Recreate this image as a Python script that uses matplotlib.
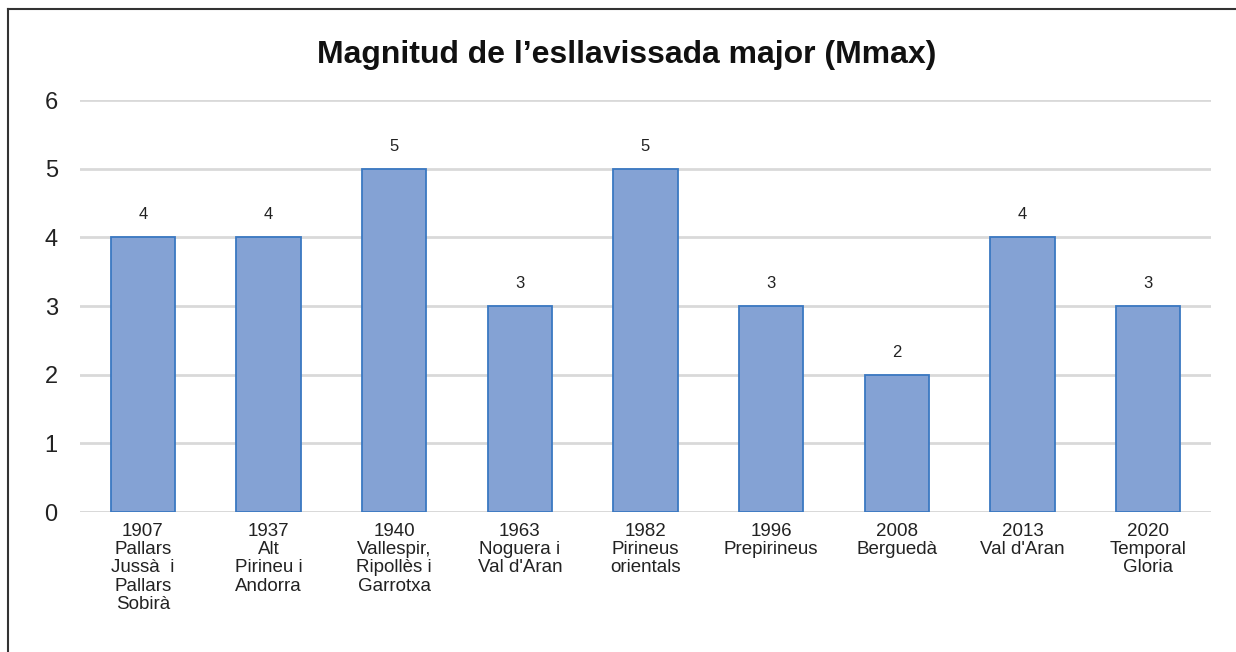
import matplotlib.pyplot as plt
from matplotlib.lines import Line2D

plt.rcParams['font.family'] = ['Liberation Sans', 'DejaVu Sans']

categories = [
    "1907\nPallars\nJussà  i\nPallars\nSobirà",
    "1937\nAlt\nPirineu i\nAndorra",
    "1940\nVallespir,\nRipollès i\nGarrotxa",
    "1963\nNoguera i\nVal d'Aran",
    "1982\nPirineus\norientals",
    "1996\nPrepirineus",
    "2008\nBerguedà",
    "2013\nVal d'Aran",
    "2020\nTemporal\nGloria",
]
mmax = [4, 4, 5, 3, 5, 3, 2, 4, 3]
yticks = [0, 1, 2, 3, 4, 5, 6]

fig = plt.figure(figsize=(12.36, 6.52), dpi=100)
ax = fig.add_axes([0.0647, 0.2147, 0.9151, 0.6319])

x = range(len(mmax))
ax.bar(x, mmax, width=0.51, color='#84A2D4', edgecolor='#3A78C2', linewidth=1.3, zorder=3)
for xi, v in zip(x, mmax):
    ax.annotate(str(v), (xi, v), xytext=(0, 13), textcoords='offset points',
                ha='center', va='baseline', fontsize=12, color='#222222')

ax.set_xlim(-0.5, len(mmax) - 0.5)
ax.set_ylim(0, 6)
ax.set_yticks(yticks)
ax.set_yticklabels([str(t) for t in yticks], fontsize=17, color='#222222')
ax.set_xticks(list(x))
ax.set_xticklabels(categories, fontsize=13.5, color='#222222', linespacing=1.09)
ax.tick_params(axis='y', length=0, pad=16)
ax.tick_params(axis='x', length=0, pad=8)
ax.grid(axis='y', color='#D9D9D9', linewidth=2, zorder=0)
for s in ax.spines.values():
    s.set_visible(False)
ax.axhline(0, color='#D9D9D9', linewidth=2, zorder=1)

fig.text(0.507, 0.915, "Magnitud de l’esllavissada major (Mmax)", ha='center', va='center',
         fontsize=23, fontweight='bold', color='#111111')

# outer frame (top and left visible)
fig.add_artist(Line2D([0.0065, 0.0065], [0.0, 0.986], transform=fig.transFigure, color='#333333', linewidth=1.5))
fig.add_artist(Line2D([0.0065, 1.0], [0.986, 0.986], transform=fig.transFigure, color='#333333', linewidth=1.5))

fig.savefig('out.png', dpi=100)
